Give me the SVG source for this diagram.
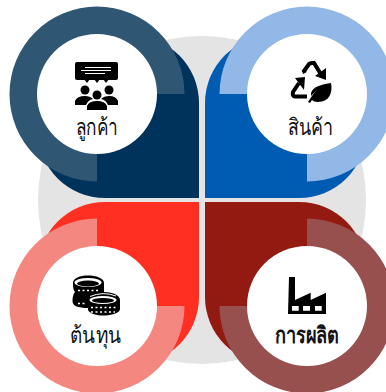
<svg xmlns="http://www.w3.org/2000/svg" width="386" height="392" viewBox="0 0 386 392">
<style>
.lbl{font-family:"Liberation Serif",serif;font-size:23px;fill:#111;text-anchor:middle}
.w{fill:#fff}
.k{fill:#000}
.s{fill:none;stroke:#000;stroke-width:4}
</style>
<circle id="backdrop" cx="202" cy="200" r="164" fill="#e4e4e4"/>
<g id="customer">
<path d="M199 198H105A67 67 0 0 1 38 131V103A67 67 0 0 1 105 36H132A67 67 0 0 1 199 103Z" fill="#00335b"/>
<path d="M184.500 94A87.500 87.500 0 1 0 97 181.500V94Z" fill="#2f5673"/>
<circle class="w" cx="97" cy="94" r="60"/>
<rect class="k" x="75" y="62" width="43" height="18" rx="2"/>
<path class="k" d="M84 79h6l-3 4ZM94 79h6l-3 4ZM103 79h6l-3 4Z"/>
<path d="M85 67.500H111M81 70.500H111M85 73.500H105" stroke="#fff" stroke-width="1"/>
<circle class="k" cx="85" cy="90" r="4.500"/><circle class="k" cx="109" cy="90" r="4.500"/><circle class="k" cx="97" cy="95" r="4.500"/>
<path class="k" d="M75 105V101Q77 96 85 96Q90 96 93 99Q88 100 86 105ZM118 105V101Q116 96 109 96Q104 96 101 99Q106 100 108 105ZM87 110V106Q89 101 97 101Q105 101 107 106V110Z"/>
<text class="lbl" x="96.700" y="135" textLength="42" lengthAdjust="spacingAndGlyphs">ลูกค้า</text>
</g>
<g id="product">
<path d="M205 198H299A67 67 0 0 0 366 131V103A67 67 0 0 0 299 36H272A67 67 0 0 0 205 103Z" fill="#005cb2"/>
<path d="M307 181.500A87.500 87.500 0 1 0 219.500 94H307Z" fill="#91b8e6"/>
<circle class="w" cx="307" cy="94" r="60"/>
<path class="s" d="M305 73L304 71L309 64Q310 63 312 63H314L322 76"/>
<path class="k" d="M315 76L326 80L326 68Z"/>
<path class="s" d="M299 83L293 92Q292 96 295 96.500H307"/>
<path class="k" d="M295 78L305 77L304 90Z"/>
<path class="k" d="M331 83C333 93 329 102 318 102C315 102 313 101 312 100L310 103L308 102L312 96C314 92 318 89 322 88C318 89 314 92 311 96C310 88 318 85 331 83Z"/>
<text class="lbl" x="310.500" y="135" textLength="45" lengthAdjust="spacingAndGlyphs">สินค้า</text>
</g>
<g id="cost">
<path d="M199 202H105A67 67 0 0 0 38 269V297A67 67 0 0 0 105 364H132A67 67 0 0 0 199 297Z" fill="#ff2f22"/>
<path d="M97 218.500A87.500 87.500 0 1 0 184.500 306H97Z" fill="#f48780"/>
<circle class="w" cx="97" cy="306" r="60"/>
<path class="k" d="M73 283C73 278 80 275.500 88 275.500C96 275.500 104 278 104 283V292C114 292 120 296 120 300V309C120 313 112 315.500 103 315.500C97 315.500 90 314 88 310V308C78 308 72.500 306 72.500 301C72.500 298 73 294 75 292C73 290 73 286 73 283Z"/>
<ellipse class="w" cx="88" cy="282.500" rx="13.500" ry="4.500"/>
<ellipse class="k" cx="88" cy="283.500" rx="11" ry="3"/>
<path d="M90 296.500Q103 291 116 296" fill="none" stroke="#fff" stroke-width="1"/>
<ellipse class="w" cx="103" cy="300" rx="13.500" ry="4"/>
<ellipse class="k" cx="103" cy="300.500" rx="11" ry="2.500"/>
<path d="M78 290.500H100M78 303.500H87M91 307.500H116M91 312H115" stroke="#fff" stroke-width="1.600" stroke-dasharray="2 2.500"/>
<text class="lbl" x="95.500" y="343" textLength="51" lengthAdjust="spacingAndGlyphs">ต้นทุน</text>
</g>
<g id="production">
<path d="M205 202H299A67 67 0 0 1 366 269V297A67 67 0 0 1 299 364H272A67 67 0 0 1 205 297Z" fill="#921a10"/>
<path d="M219.500 306A87.500 87.500 0 1 0 307 218.500V306Z" fill="#98504e"/>
<circle class="w" cx="307" cy="306" r="60"/>
<path class="k" d="M289 277H295V300L310.700 292.700V300L326 292.700V314H288Z"/>
<path class="w" d="M292 306h6.700v4.700h-6.700ZM303 306h7v4.700h-7ZM315 306h6.700v4.700h-6.700Z"/>
<text class="lbl" x="307" y="343" font-weight="700" textLength="64" lengthAdjust="spacingAndGlyphs">การผลิต</text>
</g>
</svg>
